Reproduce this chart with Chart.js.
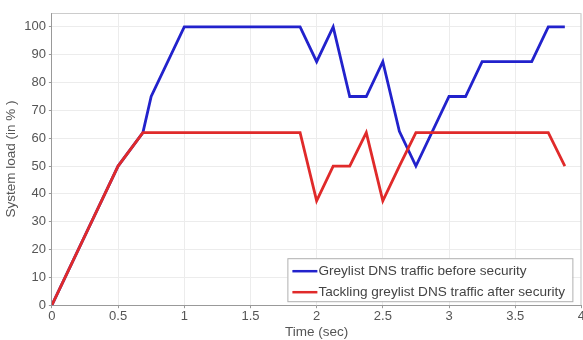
<!DOCTYPE html>
<html>
<head>
<meta charset="utf-8">
<script src="https://cdn.jsdelivr.net/npm/chart.js@4.4.1/dist/chart.umd.min.js"></script>
<style>
  html, body { margin: 0; padding: 0; background: #fff; overflow: hidden; }
  #wrap { position: relative; width: 585px; height: 340px; }
</style>
</head>
<body>
<div id="wrap"><canvas id="loadChart"></canvas></div>
<script>
// time (sec) and load (%)
var timeBefore = [0, 0.125, 0.25, 0.375, 0.5, 0.6875, 0.75, 1.0, 1.875, 2.0, 2.125, 2.25, 2.375, 2.5, 2.625, 2.75, 3.0, 3.125, 3.25, 3.625, 3.75, 3.875];
var loadBefore = [0, 12.5, 25, 37.5, 50, 62, 75, 100, 100, 87.5, 100, 75, 75, 87.5, 62.5, 50, 75, 75, 87.5, 87.5, 100, 100];

var timeAfter = [0, 0.125, 0.25, 0.375, 0.5, 0.6875, 1.875, 2.0, 2.125, 2.25, 2.375, 2.5, 2.625, 2.75, 3.75, 3.875];
var loadAfter = [0, 12.5, 25, 37.5, 50, 62, 62, 37.5, 50, 50, 62, 37.5, 50, 62, 62, 50];

var xTicks = [0, 0.5, 1, 1.5, 2, 2.5, 3, 3.5, 4];
var yTicks = [0, 10, 20, 30, 40, 50, 60, 70, 80, 90, 100];

var FONT = '"Liberation Sans", Arial, sans-serif';

function toPoints(xs, ys) {
    var pts = [];
    for (var i = 0; i < xs.length; i++) {
        pts.push({ x: xs[i], y: ys[i] });
    }
    return pts;
}

// legend box drawn inside the plot, bottom right, like matlab
var boxLegend = {
    id: 'boxLegend',
    afterDraw: function (chart) {
        var ctx = chart.ctx;
        var area = chart.chartArea;
        var left = area.right - 294, right = area.right - 9;
        var top = area.bottom - 47, bottom = area.bottom - 4;
        ctx.save();
        ctx.fillStyle = '#fff';
        ctx.fillRect(left, top, right - left, bottom - top);
        ctx.strokeStyle = '#b0b0b0';
        ctx.lineWidth = 1;
        ctx.strokeRect(left + 0.5, top + 0.5, right - left, bottom - top);
        ctx.font = '13.6px ' + FONT;
        ctx.textBaseline = 'middle';
        chart.data.datasets.forEach(function (ds, i) {
            var y = top + 13 + i * 21;
            ctx.strokeStyle = ds.borderColor;
            ctx.lineWidth = 2.5;
            ctx.beginPath();
            ctx.moveTo(left + 5, y);
            ctx.lineTo(left + 30, y);
            ctx.stroke();
            ctx.fillStyle = '#444';
            ctx.fillText(ds.label, left + 31, y);
        });
        ctx.restore();
    }
};

var ctx = document.getElementById('loadChart').getContext('2d');
var myChart = new Chart(ctx, {
    type: 'line',
    data: {
        datasets: [{
            label: 'Greylist DNS traffic before security',
            data: toPoints(timeBefore, loadBefore),
            borderColor: '#2222cc',
            borderWidth: 2.8,
            pointRadius: 0,
            order: 1,
            fill: false
        }, {
            label: 'Tackling greylist DNS traffic after security',
            data: toPoints(timeAfter, loadAfter),
            borderColor: '#e02a2a',
            borderWidth: 2.8,
            pointRadius: 0,
            order: 0,
            fill: false
        }]
    },
    options: {
        responsive: true,
        maintainAspectRatio: false,
        animation: false,
        layout: { padding: { top: 13, left: 3, right: 0, bottom: 0 } },
        plugins: {
            legend: { display: false },
            tooltip: { enabled: false }
        },
        scales: {
            x: {
                type: 'linear',
                min: 0,
                max: 4,
                afterBuildTicks: function (axis) {
                    axis.ticks = xTicks.map(function (v) { return { value: v }; });
                },
                ticks: {
                    color: '#555',
                    font: { family: FONT, size: 13 },
                    padding: 0,
                    maxRotation: 0,
                    callback: function (v) { return String(v); }
                },
                grid: { color: '#ececec', drawTicks: true, tickLength: 3, tickColor: '#999' },
                border: { color: '#999' },
                title: {
                    display: true,
                    text: 'Time (sec)',
                    color: '#555',
                    font: { family: FONT, size: 13.5 },
                    padding: { top: 0, bottom: 0 }
                }
            },
            y: {
                type: 'linear',
                min: 0,
                max: 105,
                afterBuildTicks: function (axis) {
                    axis.ticks = yTicks.map(function (v) { return { value: v }; });
                },
                ticks: {
                    color: '#555',
                    font: { family: FONT, size: 13 },
                    padding: 3
                },
                grid: { color: '#ececec', drawTicks: true, tickLength: 3, tickColor: '#999' },
                border: { color: '#999' },
                title: {
                    display: true,
                    text: 'System load (in % )',
                    color: '#555',
                    font: { family: FONT, size: 13.5 },
                    padding: { top: 0, bottom: 2 }
                }
            }
        }
    },
    plugins: [{
        id: 'frame',
        afterDraw: function (chart) {
            var c = chart.ctx, a = chart.chartArea;
            c.save();
            c.strokeStyle = '#ccc';
            c.lineWidth = 1;
            c.beginPath();
            c.moveTo(a.left, a.top + 0.5);
            c.lineTo(a.right - 0.5, a.top + 0.5);
            c.lineTo(a.right - 0.5, a.bottom);
            c.stroke();
            c.restore();
        }
    }, boxLegend]
});
</script>
</body>
</html>
